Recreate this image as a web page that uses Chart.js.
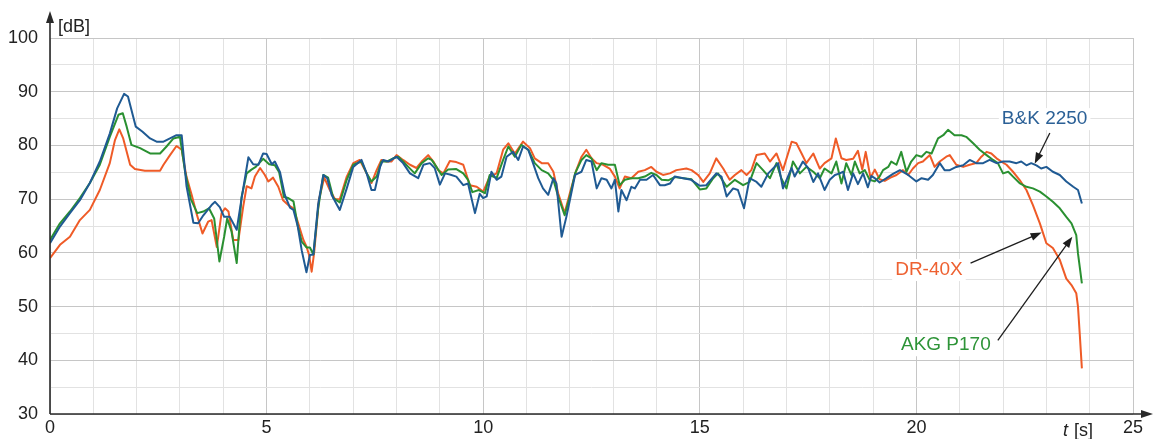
<!DOCTYPE html>
<html>
<head>
<meta charset="utf-8">
<script src="https://cdn.jsdelivr.net/npm/chart.js@4.4.1/dist/chart.umd.min.js"></script>
<style>
html,body{margin:0;padding:0;background:#fff;}
#wrap{width:1153px;height:439px;position:relative;}
</style>
</head>
<body>
<div id="wrap"><canvas id="c" width="1153" height="439"></canvas></div>
<script>
// ---- data ----
const seriesNames = ["B&K 2250", "AKG P170", "DR-40X"];

const bkT = [0,0.23,0.46,0.69,0.92,1.15,1.38,1.55,1.71,1.8,1.98,2.13,2.31,2.46,2.62,2.77,2.92,3.04,3.15,3.31,3.42,3.54,3.73,3.81,3.92,4.02,4.15,4.31,4.42,4.58,4.69,4.81,4.92,5.0,5.12,5.19,5.31,5.42,5.54,5.62,5.72,5.81,5.92,6.0,6.08,6.19,6.31,6.4,6.5,6.62,6.69,6.85,7.0,7.19,7.31,7.42,7.5,7.62,7.69,7.81,8.0,8.15,8.31,8.5,8.62,8.77,8.88,9.0,9.12,9.23,9.38,9.54,9.65,9.81,9.92,10.0,10.08,10.19,10.31,10.42,10.54,10.69,10.81,10.92,11.04,11.15,11.27,11.38,11.5,11.62,11.69,11.81,11.92,12.0,12.12,12.27,12.38,12.5,12.62,12.73,12.85,12.96,13.04,13.12,13.19,13.31,13.42,13.5,13.62,13.77,13.92,14.08,14.19,14.31,14.42,14.62,14.8,15.0,15.15,15.38,15.5,15.62,15.77,15.88,16.02,16.15,16.31,16.42,16.58,16.81,16.92,17.12,17.19,17.38,17.5,17.62,17.73,17.88,18.0,18.12,18.23,18.31,18.42,18.54,18.65,18.77,18.88,18.96,19.04,19.15,19.31,19.46,19.62,19.81,20.0,20.12,20.27,20.38,20.54,20.65,20.77,20.92,21.08,21.23,21.38,21.54,21.69,21.85,22.0,22.15,22.31,22.42,22.54,22.65,22.77,22.88,23.0,23.15,23.31,23.46,23.62,23.73,23.82];
const bkV = [61.8,64.9,67.4,69.8,73,77,82.2,86.9,89.6,89.1,83.5,82.6,81.3,80.7,80.7,81.3,81.9,81.9,72.5,65.6,65.5,67,68.9,69.5,68.5,66.7,66.7,64.3,70,77.8,76.5,76.4,78.5,78.4,76.5,77,75,70.8,68.4,68,64.9,60.5,56.4,59.6,59.7,69,74.5,73.9,70.8,69,68,72,76,77.3,74.8,71.7,71.7,76,77.3,77,77.9,76.7,74.8,73.9,76.4,76.7,75.8,72.7,74.8,74.6,74.2,72.6,72.9,67.4,71,70.2,70.5,75.1,73.6,74.2,77.9,78.8,77.3,79.8,79.2,76.7,73.9,72,70.8,73.9,72.9,63,66.7,69.8,74.5,75.1,77.3,77,72,73.9,73.6,72,73.6,67.7,71.7,69.8,72.3,72,73.6,73.6,74.5,72.6,72.6,72.9,74.2,73.9,73.6,72.5,72.6,74.8,74.2,70.5,72,71.7,68.3,73.9,73.2,72.3,74.8,76.7,72,75.8,74.2,77,75.8,73.2,74.8,71.7,73.6,74.5,74.8,75.1,71.7,74.8,72.8,74.8,72.2,74.3,73.9,73.1,73.9,74.7,75.4,74.5,73.3,73.9,73.6,74.5,76.7,75.4,75.4,76.0,76.3,77.3,76.7,76.7,77.3,76.7,77,77,76.7,77,76.3,76.7,76.3,75.7,76,75.1,74.5,73.3,72.3,71.7,69.2];

const akgT = [0,0.23,0.46,0.69,0.92,1.15,1.38,1.58,1.68,1.77,1.88,2.08,2.31,2.54,2.69,2.85,3.0,3.12,3.25,3.4,3.54,3.67,3.79,3.91,4.02,4.09,4.19,4.31,4.42,4.54,4.65,4.75,4.92,5.06,5.19,5.29,5.4,5.5,5.62,5.72,5.81,5.92,6.0,6.08,6.19,6.31,6.42,6.54,6.69,6.85,7.0,7.19,7.31,7.42,7.54,7.65,7.77,7.92,8.04,8.15,8.27,8.42,8.58,8.73,8.81,8.92,9.04,9.19,9.38,9.54,9.65,9.75,9.9,10.04,10.15,10.31,10.46,10.58,10.73,10.88,11.04,11.19,11.35,11.5,11.62,11.73,11.88,12.0,12.12,12.27,12.38,12.5,12.62,12.73,12.88,13.04,13.15,13.27,13.42,13.58,13.73,13.88,14.0,14.12,14.27,14.42,14.62,14.81,15.0,15.15,15.31,15.42,15.62,15.81,16.0,16.15,16.31,16.46,16.62,16.77,16.88,17.0,17.15,17.31,17.46,17.62,17.77,17.88,18.04,18.15,18.27,18.38,18.5,18.58,18.69,18.81,18.92,19.04,19.15,19.23,19.35,19.42,19.54,19.65,19.77,19.88,20.0,20.12,20.23,20.35,20.5,20.62,20.73,20.88,21.04,21.15,21.31,21.46,21.62,21.77,21.88,22.0,22.12,22.23,22.38,22.54,22.69,22.85,23.0,23.15,23.31,23.46,23.58,23.69,23.73,23.82];
const akgV = [62.4,65.5,67.7,70.2,73,76.4,81.6,85.7,86,83.5,80.1,79.5,78.5,78.5,79.8,81.3,81.6,75,70,67.4,67.7,68.3,66.4,58.4,63,66.4,64,58.1,70.3,74.8,75.5,76,77.5,76.5,76.3,75,70.4,70.2,69.6,65,62.1,61,61,59.7,68.3,74.5,74,70.2,69.4,73.6,76.4,77,74.8,73.3,74.2,77,77,77.6,77.9,77,76,74.8,76.7,77.6,77.3,76,74.5,75.5,75.6,74.8,73.6,71.3,71.7,71.1,74.5,73.9,77.3,79.8,77.9,80.1,79.2,76.7,75.4,74.8,73.6,70.5,67,70.5,74.8,77.3,78.2,77.6,75.4,76.7,76.4,76.4,72.6,73.6,73.9,73.9,74.2,74.9,74.5,73.6,73.5,74.1,73.9,73.7,71.8,72,73.9,74.8,72.3,73.6,72.6,73.2,76.7,75.4,73.9,76.7,73.9,72,77,74.8,76,75.1,73.9,75.7,74.8,77,72.9,76.7,74.5,77,74.8,75.4,73.6,73.3,74.2,75.4,76,77,76.4,78.8,75.1,77,78.2,77.9,78.8,78.5,81.3,81.9,82.9,81.9,81.9,81.6,80.4,79.2,78.2,77.3,76.7,74.8,75.1,74.2,73,72.3,72,71.4,70.5,69.5,68.3,66.7,65.5,63.3,59.9,54.3];

const drT = [0,0.23,0.46,0.69,0.92,1.15,1.38,1.5,1.6,1.69,1.85,1.96,2.19,2.54,2.62,2.77,2.92,3.04,3.15,3.27,3.38,3.52,3.65,3.73,3.85,3.96,4.04,4.12,4.23,4.35,4.46,4.54,4.65,4.73,4.85,4.96,5.04,5.15,5.27,5.38,5.5,5.62,5.73,5.85,5.92,5.98,6.04,6.1,6.21,6.33,6.46,6.58,6.69,6.85,7.0,7.15,7.31,7.42,7.54,7.65,7.77,7.88,8.0,8.15,8.31,8.46,8.58,8.73,8.85,8.96,9.08,9.23,9.38,9.54,9.69,9.85,10.0,10.15,10.31,10.46,10.58,10.73,10.92,11.08,11.19,11.35,11.5,11.62,11.73,11.88,12.0,12.15,12.27,12.38,12.5,12.62,12.77,12.92,13.04,13.15,13.27,13.42,13.58,13.73,13.88,14.0,14.15,14.31,14.46,14.69,14.81,14.96,15.08,15.23,15.38,15.54,15.69,15.81,15.96,16.08,16.19,16.31,16.5,16.62,16.77,16.92,17.12,17.23,17.35,17.46,17.62,17.77,17.88,18.04,18.14,18.27,18.38,18.54,18.65,18.75,18.83,18.94,19.04,19.15,19.27,19.4,19.54,19.69,19.81,19.92,20.04,20.15,20.31,20.42,20.54,20.69,20.77,20.92,21.08,21.23,21.38,21.5,21.62,21.73,21.85,21.96,22.08,22.23,22.38,22.54,22.69,22.85,23.0,23.15,23.31,23.46,23.58,23.69,23.73,23.77,23.82];
const drV = [59,61.5,63,66.1,68,71.7,76.7,81,83,81.3,76.4,75.6,75.3,75.3,76.4,78.2,79.9,79.2,74.2,70.8,67.4,63.6,65.8,66.1,61.1,67.4,68.3,67.7,62.4,62.4,68.6,72.4,72,74.2,75.8,74.5,73.3,74,72.3,69.8,68.9,68.3,65.5,62.4,61.2,59.6,56.5,60.2,70,74,71.7,70,70,74.2,76.7,77.3,74.8,73,75.4,77.3,77,77,78.2,77.3,76.4,75.8,77,78.2,77,75.4,74.8,77.1,76.9,76.4,72.6,72.3,71.4,74.2,74.8,79.2,80.4,78.5,80.7,79.5,77.6,76.7,76.7,75.1,71.1,67.4,71.1,75.4,77.9,79.2,77.6,76.7,76.4,75.7,74.2,72,74.2,73.9,75.1,75.4,76.0,75.1,74.5,74.8,75.4,75.7,75.4,74.5,73.2,74.8,77.6,75.7,73.6,74.5,75.4,74.5,75.4,78.2,78.5,77,78.5,75.4,80.7,80.4,78.5,76.7,78.5,75.7,76.7,77.6,81.3,77.6,77.3,77.5,79,75.5,78.8,74,75.5,73.7,73.4,74,74.5,75.4,74.5,75.7,76.7,77,78.2,76,77,77.9,78.2,76.4,76,76.4,76.7,77.9,78.8,78.5,77.6,77,76.4,75.1,73.6,71.7,68.9,65.5,61.8,60.9,58.7,55.2,54,52.5,50,45,38.5];

const xTicks = [0,5,10,15,20,25];
const yTicks = [30,40,50,60,70,80,90,100];

// annotation anchors in data coordinates (label position, arrow start, arrow tip)
const annotations = [
  {text:"B&K 2250", color:"#2b6096", lx:22.96, ly:84.9, align:"center", x0:23.08, y0:82.3, x1:22.73, y1:76.6},
  {text:"DR-40X",   color:"#ee6131", lx:20.29, ly:56.8, align:"center", x0:21.25, y0:58.1, x1:22.89, y1:63.8},
  {text:"AKG P170", color:"#2e9438", lx:20.68, ly:42.8, align:"center", x0:21.88, y0:43.7, x1:23.6,  y1:63.0}
];

const colors = {bk:"#1f5a93", akg:"#2a9031", dr:"#ef5b27"};
const FONT = "'Liberation Sans', Arial, sans-serif";

function pts(t, v){ return t.map((x,i)=>({x:x, y:v[i]})); }

function arrowHead(ctx, x0, y0, x1, y1, len, wid){
  const a = Math.atan2(y1-y0, x1-x0);
  ctx.beginPath();
  ctx.moveTo(x1, y1);
  ctx.lineTo(x1 - len*Math.cos(a) + wid*Math.sin(a), y1 - len*Math.sin(a) - wid*Math.cos(a));
  ctx.lineTo(x1 - len*Math.cos(a) - wid*Math.sin(a), y1 - len*Math.sin(a) + wid*Math.cos(a));
  ctx.closePath();
  ctx.fill();
}

const decor = {
  id:'decor',
  afterDraw(chart){
    const ctx = chart.ctx, ca = chart.chartArea;
    const xs = chart.scales.x, ys = chart.scales.y;
    ctx.save();
    // axes
    ctx.strokeStyle = "#2a2a2a"; ctx.fillStyle = "#2a2a2a"; ctx.lineWidth = 1.6;
    ctx.beginPath(); ctx.moveTo(ca.left, ca.bottom); ctx.lineTo(ca.left, 16); ctx.stroke();
    arrowHead(ctx, ca.left, 40, ca.left, 11, 12, 4);
    ctx.beginPath(); ctx.moveTo(ca.left, ca.bottom); ctx.lineTo(1146, ca.bottom); ctx.stroke();
    arrowHead(ctx, 1120, ca.bottom, 1153, ca.bottom, 12, 4);
    // axis titles
    ctx.fillStyle = "#222";
    ctx.font = "18px " + FONT;
    ctx.textBaseline = "middle"; ctx.textAlign = "left";
    ctx.fillText("[dB]", 58, 27);
    ctx.font = "italic 18px " + FONT;
    ctx.fillText("t", 1063, 431);
    const tw = ctx.measureText("t ").width;
    ctx.font = "18px " + FONT;
    ctx.fillText("[s]", 1063 + tw + 1, 431);
    // annotations
    annotations.forEach(a=>{
      const px0 = xs.getPixelForValue(a.x0), py0 = ys.getPixelForValue(a.y0);
      const px1 = xs.getPixelForValue(a.x1), py1 = ys.getPixelForValue(a.y1);
      ctx.strokeStyle = "#1e1e1e"; ctx.fillStyle = "#1e1e1e"; ctx.lineWidth = 1.3;
      const ang = Math.atan2(py1-py0, px1-px0);
      ctx.beginPath(); ctx.moveTo(px0, py0); ctx.lineTo(px1 - 6*Math.cos(ang), py1 - 6*Math.sin(ang)); ctx.stroke();
      arrowHead(ctx, px0, py0, px1, py1, 11, 4);
      ctx.font = "19px " + FONT;
      ctx.textAlign = a.align; ctx.textBaseline = "middle";
      const lx = xs.getPixelForValue(a.lx), ly = ys.getPixelForValue(a.ly);
      const w = ctx.measureText(a.text).width;
      ctx.fillStyle = "#ffffff";
      ctx.fillRect(lx - w/2 - 3, ly - 11, w + 6, 22);
      ctx.fillStyle = a.color;
      ctx.fillText(a.text, lx, ly);
    });
    ctx.restore();
  }
};

new Chart(document.getElementById('c'), {
  type:'line',
  data:{
    datasets:[
      {label:seriesNames[0], data:pts(bkT,bkV), borderColor:colors.bk, borderWidth:2},
      {label:seriesNames[1], data:pts(akgT,akgV), borderColor:colors.akg, borderWidth:2},
      {label:seriesNames[2], data:pts(drT,drV), borderColor:colors.dr, borderWidth:2}
    ]
  },
  options:{
    responsive:false, animation:false, devicePixelRatio:1,
    parsing:true,
    elements:{point:{radius:0}, line:{tension:0, fill:false, borderJoinStyle:'round'}},
    layout:{padding:{top:38, right:20, left:0, bottom:0}},
    plugins:{legend:{display:false}, tooltip:{enabled:false}},
    scales:{
      x:{
        type:'linear', min:0, max:25,
        afterFit(s){ s.height = 25; },
        afterBuildTicks(s){ const t=[]; for(let i=0;i<=25;i++) t.push({value:i}); s.ticks = t; },
        ticks:{autoSkip:false, maxRotation:0, padding:3, color:"#222", font:{size:18, family:FONT},
          callback:v=> xTicks.includes(v) ? String(v) : ''},
        grid:{drawTicks:false, lineWidth:1, color:c=> (c.tick && c.tick.value%5===0) ? '#c6c6c6' : '#e2e2e2'},
        border:{display:false}
      },
      y:{
        type:'linear', min:30, max:100,
        afterFit(s){ s.width = 50; },
        afterBuildTicks(s){ const t=[]; for(let v=30;v<=100;v+=5) t.push({value:v}); s.ticks = t; },
        ticks:{autoSkip:false, padding:12, color:"#222", font:{size:18, family:FONT},
          callback:v=> yTicks.includes(v) ? String(v) : ''},
        grid:{drawTicks:false, lineWidth:1, color:c=> (c.tick && c.tick.value%10===0) ? '#c6c6c6' : '#e2e2e2'},
        border:{display:false}
      }
    }
  },
  plugins:[decor]
});
</script>
</body>
</html>
